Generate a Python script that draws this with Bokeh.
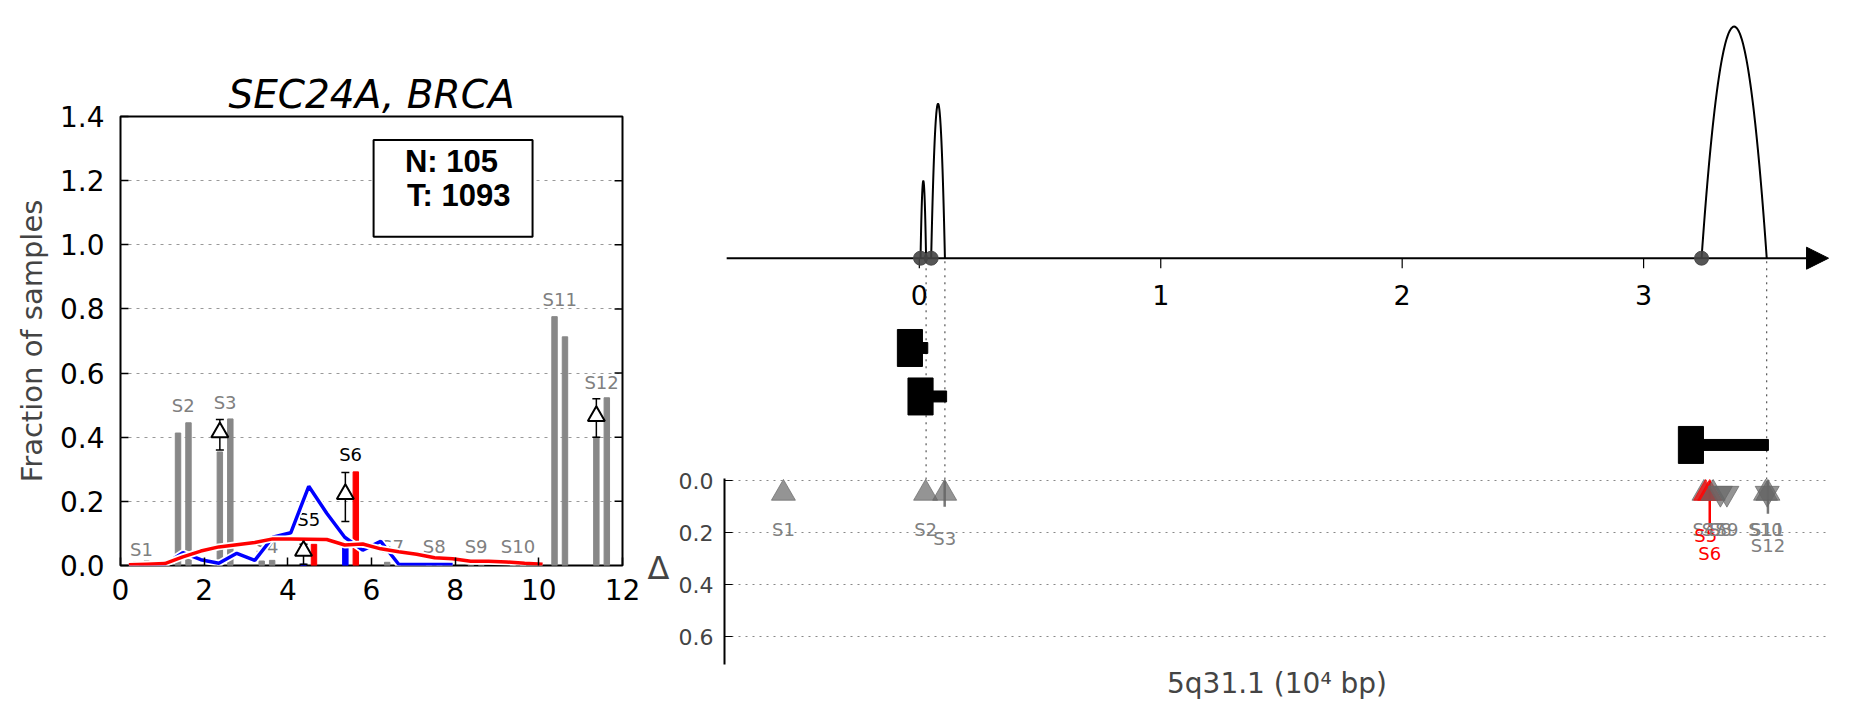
import numpy as np
from bokeh.plotting import figure
from bokeh.layouts import row, column
from bokeh.models import (Range1d, FixedTicker, BoxAnnotation, Label,
                          Arrow, NormalHead, ColumnDataSource, NumeralTickFormatter)
from bokeh.core.properties import value
from bokeh.embed import file_html
from bokeh.resources import INLINE

FONT = "DejaVu Sans"
BOLD_FONT = "Liberation Sans"

# ---------------- data: left panel ----------------
gene = "SEC24A"
cancer = "BRCA"
segments = ["S1", "S2", "S3", "S4", "S5", "S6", "S7", "S8", "S9", "S10", "S11", "S12"]
seg_center = [0.5, 1.5, 2.5, 3.5, 4.5, 5.5, 6.5, 7.5, 8.5, 9.5, 10.5, 11.5]
normal_frac = [0.012, 0.413, 0.354, 0.014, 0.004, 0.070, 0.010, 0.010, 0.012, 0.012, 0.776, 0.400]
tumor_frac = [0.014, 0.445, 0.457, 0.016, 0.066, 0.292, 0.012, 0.012, 0.014, 0.014, 0.713, 0.523]
significant = [False, False, False, False, True, True, False, False, False, False, False, False]
seg_label_y = [0.050, 0.500, 0.509, 0.058, 0.144, 0.347, 0.058, 0.058, 0.058, 0.058, 0.830, 0.572]

delta_segments = ["S3", "S5", "S6", "S12"]
delta_value = [0.415, 0.046, 0.223, 0.466]
delta_low = [0.360, 0.004, 0.137, 0.400]
delta_high = [0.455, 0.066, 0.290, 0.520]

dens_x = [0.20, 0.63, 1.06, 1.49, 1.92, 2.35, 2.78, 3.21, 3.64, 4.07, 4.50, 4.93,
          5.36, 5.79, 6.22, 6.65, 7.08, 7.51, 7.94, 8.37, 8.80, 9.23, 9.66, 10.09]
tumor_dens = [0.002, 0.004, 0.006, 0.027, 0.045, 0.058, 0.065, 0.072, 0.083, 0.083, 0.082, 0.081,
              0.064, 0.067, 0.052, 0.043, 0.035, 0.024, 0.021, 0.013, 0.013, 0.011, 0.007, 0.004]
normal_dens = [0.000, 0.000, 0.003, 0.040, 0.018, 0.007, 0.038, 0.016, 0.088, 0.102, 0.247, 0.163,
               0.088, 0.048, 0.075, 0.004, 0.003, 0.003, 0.003]

n_normal = 105
n_tumor = 1093
y_ticks_left = [0.0, 0.2, 0.4, 0.6, 0.8, 1.0, 1.2, 1.4]
x_ticks_left = [0, 2, 4, 6, 8, 10, 12]

# ---------------- data: right panel ----------------
junction_start = [0.005, 0.049, 3.240]
junction_end = [0.028, 0.106, 3.510]
junction_reads = [1, 2, 3]
genome_ticks = [0, 1, 2, 3]

seg_genome_pos = [-0.563, 0.026, 0.105, 3.250, 3.257, 3.274, 3.288, 3.318, 3.345, 3.505, 3.512, 3.515]
seg_direction = ["up", "up", "up", "up", "up", "up", "up", "down", "down", "up", "down", "up"]
seg_delta_err = [0, 0, 0.100, 0, 0, 0.178, 0, 0, 0, 0, 0, 0.127]
seg_delta_label_y = [0.188, 0.188, 0.223, 0.188, 0.210, 0.278, 0.188, 0.188, 0.188, 0.188, 0.188, 0.249]
delta_ticks = [0.0, 0.2, 0.4, 0.6]

GRAY = "#888888"
BLUE = "#0000ff"
RED = "#ff0000"

# =============== LEFT panel ===============
lx = Range1d(0, 12)
left = figure(width=644, height=710, x_range=lx, y_range=Range1d(0, 1.4),
              output_backend="svg", toolbar_location=None,
              min_border_left=120, min_border_right=22, min_border_top=116, min_border_bottom=145)
left.title.text = f"{gene}, {cancer}"
left.title.text_font = FONT
left.title.text_font_size = "39px"
left.title.text_font_style = "italic"
left.title.text_color = "black"
left.title.align = "center"
left.title.standoff = 0

left.outline_line_color = "black"
left.outline_line_width = 2
left.outline_line_alpha = 1.0

xa = left.xaxis[0]
xa.ticker = FixedTicker(ticks=x_ticks_left)
ya = left.yaxis[0]
ya.ticker = FixedTicker(ticks=y_ticks_left)
ya.formatter = NumeralTickFormatter(format="0.0")
for ax in (xa, ya):
    ax.major_tick_in = 8
    ax.major_tick_out = 0
    ax.major_tick_line_width = 1.5
    ax.minor_tick_line_color = None
    ax.axis_line_color = None
    ax.major_label_text_font = FONT
    ax.major_label_text_font_size = "28px"
    ax.major_label_text_color = "black"
xa.major_label_standoff = 13
ya.major_label_standoff = 16
ya.axis_label = "Fraction of samples"
ya.axis_label_text_font = FONT
ya.axis_label_text_font_size = "29px"
ya.axis_label_text_font_style = "normal"
ya.axis_label_standoff = 8

left.xgrid.visible = False
left.ygrid.ticker = FixedTicker(ticks=y_ticks_left[1:-1])
left.ygrid.grid_line_color = "#999999"
left.ygrid.grid_line_dash = "3 5"
left.ygrid.grid_line_width = 1

# inward ticks on the right edge
rt = y_ticks_left[1:-1]
left.segment(x0=[12 - 0.19] * len(rt), y0=rt, x1=[12] * len(rt), y1=rt,
             line_color="black", line_width=1.5)

# bars
normal_x = [c - 0.125 for c in seg_center]
tumor_x = [c + 0.125 for c in seg_center]
normal_col = [BLUE if s else GRAY for s in significant]
tumor_col = [RED if s else GRAY for s in significant]
left.vbar(x=normal_x, top=normal_frac, bottom=0, width=0.13, color=normal_col)
left.vbar(x=tumor_x, top=tumor_frac, bottom=0, width=0.13, color=tumor_col)

# segment labels
lab_col = ["black" if s else "#808080" for s in significant]
left.text(x=seg_center, y=seg_label_y, text=segments, text_color=lab_col,
          text_align="center", text_baseline="middle",
          text_font=value(FONT), text_font_size="18px")

# density lines with white halo
nx = dens_x[:len(normal_dens)]
left.line(nx, normal_dens, line_color="white", line_width=7)
left.line(nx, normal_dens, line_color=BLUE, line_width=3.5)
left.line(dens_x, tumor_dens, line_color="white", line_width=7)
left.line(dens_x, tumor_dens, line_color=RED, line_width=3.5)

# delta triangles with error bars
d_idx = [segments.index(s) for s in delta_segments]
d_x = [seg_center[i] - 0.125 for i in d_idx]
left.segment(x0=d_x, y0=delta_low, x1=d_x, y1=delta_high, line_color="black", line_width=1.5)
left.scatter(x=d_x + d_x, y=delta_low + delta_high, marker="dash", size=8,
             line_color="black", line_width=1.5)
left.scatter(x=d_x, y=delta_value, marker="triangle", size=17,
             fill_color="white", line_color="black", line_width=2)

# N / T box
left.add_layout(BoxAnnotation(left=6.05, right=9.85, bottom=1.025, top=1.327,
                              fill_color="white", fill_alpha=1.0,
                              line_color="black", line_width=2, line_alpha=1.0))
left.add_layout(Label(x=6.80, y=1.206, text=f"N: {n_normal}", text_font=BOLD_FONT,
                      text_font_style="bold", text_font_size="31px", text_color="black"))
left.add_layout(Label(x=6.85, y=1.100, text=f"T: {n_tumor}", text_font=BOLD_FONT,
                      text_font_style="bold", text_font_size="31px", text_color="black"))

# =============== RIGHT: TOP (junction arcs / transcripts) ===============
xr = Range1d(-0.807, 3.770)
tr = figure(width=1195, height=470, x_range=xr, y_range=Range1d(-2.750, 3.338),
            x_axis_type=None, y_axis_type=None, output_backend="svg", toolbar_location=None,
            min_border_left=80, min_border_right=10, min_border_top=0, min_border_bottom=0)
tr.outline_line_color = None
tr.grid.visible = False

arc_xs, arc_ys = [], []
for s, e, h in zip(junction_start, junction_end, junction_reads):
    t = np.linspace(-1, 1, 81)
    arc_xs.append(list((s + e) / 2 + t * (e - s) / 2))
    arc_ys.append(list(h * (1 - t ** 2)))
tr.multi_line(arc_xs, arc_ys, line_color="black", line_width=2)

arrow = Arrow(end=NormalHead(size=22, fill_color="black", line_color="black"),
              x_start=-0.798, y_start=0, x_end=3.766, y_end=0,
              line_color="black", line_width=2, level="underlay")
tr.add_layout(arrow)

tr.segment(x0=genome_ticks, y0=[0] * 4, x1=genome_ticks, y1=[-0.13] * 4,
           line_color="black", line_width=1.2)
tr.text(x=genome_ticks, y=[-0.483] * 4, text=[str(t) for t in genome_ticks],
        text_align="center", text_baseline="middle", text_font=value(FONT),
        text_font_size="27px", text_color="black")

# dotted guide lines at junction ends
tr.segment(x0=junction_end, y0=[-0.04] * 3, x1=junction_end, y1=[-2.75] * 3,
           line_color="#333333", line_width=1, line_dash="2 5")

# transcript blocks
row_y = [-1.163, -1.791, -2.419]
tr.hbar(y=row_y, left=[s - 0.096 for s in junction_start],
        right=[s + 0.008 for s in junction_start], height=0.479, color="black")
tr.hbar(y=row_y, left=junction_start, right=[e + 0.007 for e in junction_end],
        height=0.142, color="black")

tr.scatter(x=junction_start, y=[0] * 3, size=14, color="#444444", alpha=0.9)

# =============== RIGHT: BOTTOM (delta panel) ===============
br = figure(width=1195, height=240, x_range=xr, y_range=Range1d(0.7065, -0.0396),
            output_backend="svg", toolbar_location=None,
            min_border_left=80, min_border_right=10, min_border_top=0, min_border_bottom=46)
br.outline_line_color = None
bya = br.yaxis[0]
bya.ticker = FixedTicker(ticks=delta_ticks)
bya.formatter = NumeralTickFormatter(format="0.0")
bya.major_tick_in = 8
bya.major_tick_out = 0
bya.minor_tick_line_color = None
bya.axis_line_width = 2
bya.bounds = (-0.008, 0.7065)
bya.major_label_text_font = FONT
bya.major_label_text_font_size = "22px"
bya.major_label_standoff = 11
bya.axis_label = "Δ"
bya.axis_label_text_font = FONT
bya.axis_label_text_font_size = "32px"
bya.axis_label_text_font_style = "normal"
bya.axis_label_standoff = 6
if hasattr(bya, "axis_label_orientation"):
    bya.axis_label_orientation = "horizontal"

bxa = br.xaxis[0]
bxa.ticker = FixedTicker(ticks=[])
bxa.axis_line_color = None
bxa.major_tick_line_color = None
bxa.minor_tick_line_color = None
bxa.axis_label = "5q31.1 (10⁴ bp)"
bxa.axis_label_text_font = FONT
bxa.axis_label_text_font_size = "28px"
bxa.axis_label_text_font_style = "normal"
bxa.axis_label_standoff = 2

br.xgrid.visible = False
br.ygrid.ticker = FixedTicker(ticks=delta_ticks)
br.ygrid.grid_line_color = "#888888"
br.ygrid.grid_line_dash = "2 5"
br.ygrid.grid_line_width = 1

br.segment(x0=junction_end, y0=[-0.0396] * 3, x1=junction_end, y1=[0] * 3,
           line_color="#333333", line_width=1, line_dash="2 5")

seg_col = [RED if s else "#666666" for s in significant]
err_idx = [i for i, e in enumerate(seg_delta_err) if e > 0]
br.segment(x0=[seg_genome_pos[i] for i in err_idx], y0=[0] * len(err_idx),
           x1=[seg_genome_pos[i] for i in err_idx], y1=[seg_delta_err[i] for i in err_idx],
           line_color=[RED if significant[i] else "#777777" for i in err_idx], line_width=2.5)

tri_src = ColumnDataSource(dict(
    x=seg_genome_pos, y=[0.048] * len(seg_genome_pos),
    marker=["triangle" if d == "up" else "inverted_triangle" for d in seg_direction],
    color=seg_col))
br.scatter(x="x", y="y", marker="marker", source=tri_src, size=24,
           fill_color="color", line_color="color", fill_alpha=0.7, line_alpha=0.7)

br.text(x=seg_genome_pos, y=seg_delta_label_y, text=segments,
        text_color=[RED if s else "#808080" for s in significant],
        text_align="center", text_baseline="middle", text_font=value(FONT),
        text_font_size="18px")

layout = row(left, column(tr, br))
open("out.html", "w").write(file_html(layout, INLINE))
